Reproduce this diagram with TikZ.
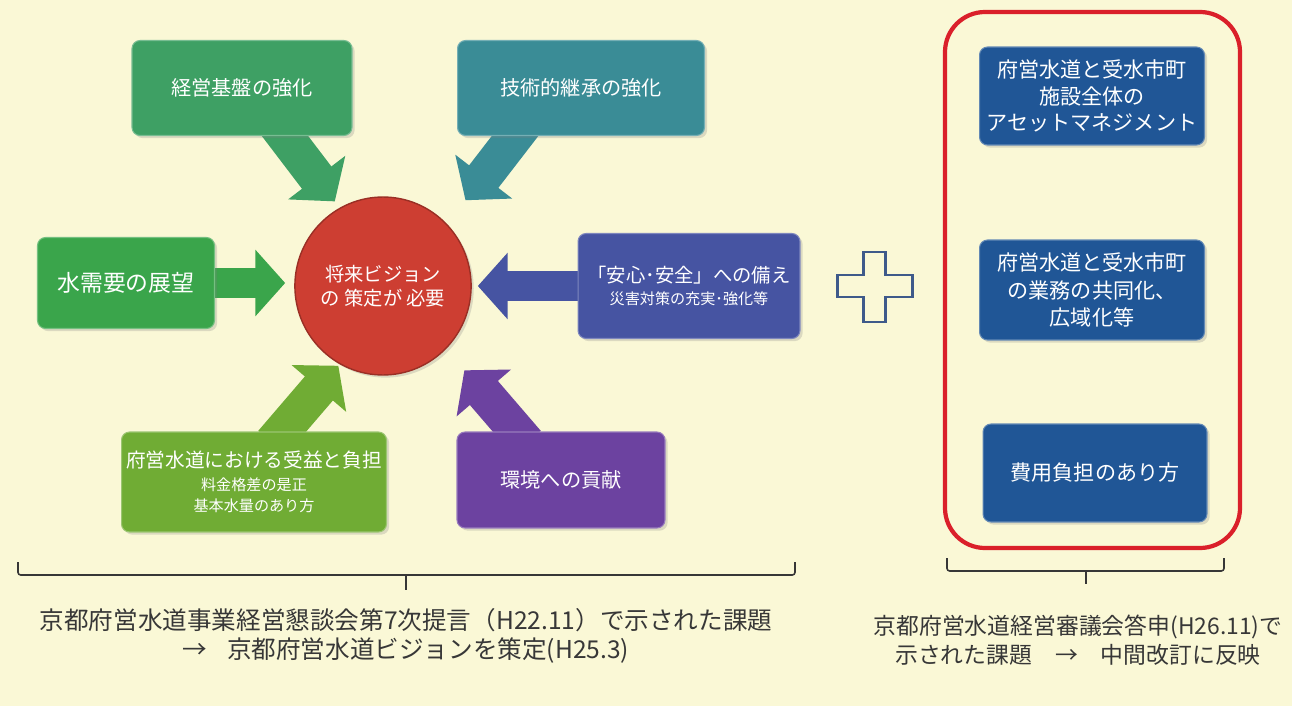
\documentclass[tikz,border=0pt]{standalone}
\usepackage{fontspec}
\setmainfont{Noto Sans CJK JP}
\usetikzlibrary{arrows.meta,shapes.geometric,shadows}
\definecolor{bgcream}{RGB}{250,248,214}
\definecolor{keieigreen}{RGB}{62,160,100}
\definecolor{gijutsuteal}{RGB}{58,140,150}
\definecolor{juyougreen}{RGB}{58,165,75}
\definecolor{anshinblue}{RGB}{70,84,162}
\definecolor{ukeekigreen}{RGB}{112,172,52}
\definecolor{kankyoupurple}{RGB}{108,66,160}
\definecolor{visionred}{RGB}{205,62,50}
\definecolor{rightblue}{RGB}{32,86,150}
\definecolor{framered}{RGB}{218,32,42}
\definecolor{plusblue}{RGB}{62,90,138}
\definecolor{notegray}{RGB}{55,55,55}
\pgfdeclarelayer{back}
\pgfdeclarelayer{mid}
\pgfsetlayers{back,mid,main}
\begin{document}
\begin{tikzpicture}[x=0.02cm,y=-0.02cm,
	box/.style={rounded corners=0.16cm, text=white, align=center, inner sep=2pt,
		draw=#1!70!white, line width=0.6pt, fill=#1,
		drop shadow={opacity=0.25, shadow xshift=1.5pt, shadow yshift=-1.5pt}},
	blockarrow/.style={#1, line width=21pt, -{Triangle[length=17pt,width=40pt]}, shorten <=-0.3cm},
	flatarrow/.style={#1, line width=17pt, -{Triangle[length=17pt,width=37pt]}, shorten <=-0.3cm},
	note/.style={text=notegray, align=center},
	brace/.style={draw=notegray, line width=0.9pt, rounded corners=1.5pt}]
	\begin{pgfonlayer}{back}
	\fill [bgcream] (0,0) rectangle (1292,706);
	\end{pgfonlayer}
	\useasboundingbox (0,0) rectangle (1292,706);
	\node [box=keieigreen, minimum width=4.4cm, minimum height=1.9cm, font=\fontsize{11.5}{14}\selectfont] (keiei) at (242,88) {経営基盤の強化};
	\node [box=gijutsuteal, minimum width=4.94cm, minimum height=1.9cm, font=\fontsize{11.5}{14}\selectfont] (gijutsu) at (581,88) {技術的継承の強化};
	\node [box=juyougreen, minimum width=3.54cm, minimum height=1.82cm, font=\fontsize{13}{15}\selectfont] (juyou) at (126,283) {水需要の展望};
	\node [ellipse, fill=visionred, draw=visionred!75!black, line width=0.8pt, text=white, align=center, minimum width=3.24cm, minimum height=3.56cm, inner sep=0pt, font=\fontsize{11}{14}\selectfont,
		drop shadow={opacity=0.25, shadow xshift=1.5pt, shadow yshift=-1.5pt}] (vision) at (383,286) {将来ビジョン\\の 策定が 必要};
	\node [box=anshinblue, minimum width=4.44cm, minimum height=2.1cm] (anshin) at (689,286) {{\fontsize{11}{14}\selectfont 「安心･安全」への備え}\\[1pt]{\fontsize{8.6}{10}\selectfont 災害対策の充実･強化等}};
	\node [box=ukeekigreen, minimum width=5.3cm, minimum height=2.0cm] (ukeeki) at (254,482) {{\fontsize{11.2}{13}\selectfont 府営水道における受益と負担}\\[1pt]{\fontsize{8.6}{11.5}\selectfont 料金格差の是正}\\{\fontsize{8.6}{11.5}\selectfont 基本水量のあり方}};
	\node [box=kankyoupurple, minimum width=4.16cm, minimum height=1.92cm, font=\fontsize{11.5}{14}\selectfont] (kankyou) at (561,480) {環境への貢献};
	\node [box=rightblue, minimum width=4.5cm, minimum height=1.96cm, font=\fontsize{12}{15}\selectfont] (asset) at (1092,96) {府営水道と受水市町\\施設全体の\\アセットマネジメント};
	\node [box=rightblue, minimum width=4.5cm, minimum height=2.0cm, font=\fontsize{12}{15.5}\selectfont] (kyoudou) at (1092,290) {府営水道と受水市町\\の業務の共同化、\\広域化等};
	\node [box=rightblue, minimum width=4.48cm, minimum height=1.96cm, font=\fontsize{12}{15}\selectfont] (hiyou) at (1095,473) {費用負担のあり方};
	\begin{pgfonlayer}{mid}
	\draw [blockarrow=keieigreen, shorten >=0.16cm] ([xshift=0.86cm]keiei.south) -- (vision.119);
	\draw [blockarrow=gijutsuteal, shorten >=0.6cm] ([xshift=-1.32cm]gijutsu.south) -- (vision.44);
	\draw [flatarrow=juyougreen, shorten >=0.18cm] (juyou.east) -- (juyou.east -| vision.west);
	\draw [flatarrow=anshinblue, shorten >=0.12cm] (anshin.west) -- (anshin.west -| vision.east);
	\draw [blockarrow=ukeekigreen, shorten >=0.04cm] ([xshift=0.56cm]ukeeki.north) -- (vision.241);
	\draw [blockarrow=kankyoupurple, shorten >=0.56cm] ([xshift=-0.88cm]kankyou.north) -- (vision.315);
	\end{pgfonlayer}
	\draw [plusblue, line width=1.7pt] (863,252) -- (885,252) -- (885,275) -- (912,275) -- (912,297) -- (885,297) -- (885,322) -- (863,322) -- (863,297) -- (837,297) -- (837,275) -- (863,275) -- cycle;
	\draw [framered, line width=2.4pt, rounded corners=0.8cm] (945,12) rectangle (1240,548);
	\draw [brace] (18,562) -- (18,575) -- (795,575) -- (795,562);
	\draw [brace] (406,575) -- (406,590);
	\draw [brace] (947,558) -- (947,571) -- (1224,571) -- (1224,558);
	\draw [brace] (1086,571) -- (1086,584);
	\node [note, font=\fontsize{14}{16.5}\selectfont] (teigen) at (406,636) {京都府営水道事業経営懇談会第7次提言（H22.11）で示された課題\\→\hspace{0.8em}京都府営水道ビジョンを策定(H25.3)};
	\node [note, font=\fontsize{13}{16.5}\selectfont] (toushin) at (1078,640) {京都府営水道経営審議会答申(H26.11)で\\示された課題\hspace{1em}→\hspace{1em}中間改訂に反映};
\end{tikzpicture}
\end{document}
